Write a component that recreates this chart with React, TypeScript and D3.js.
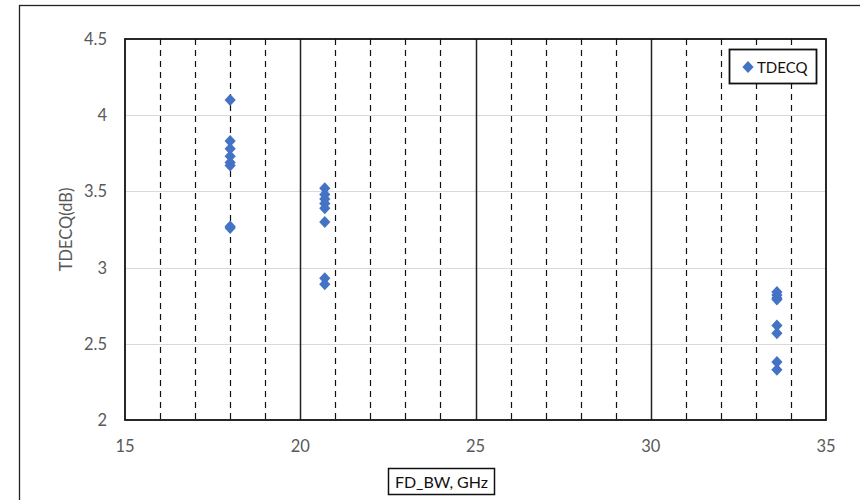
import React, { useRef, useEffect } from "react";
import * as d3 from "d3";

// FD_BW (GHz) per measurement
const bwValues = [
  18, 18, 18, 18, 18, 18, 18, 18,
  20.7, 20.7, 20.7, 20.7, 20.7, 20.7, 20.7, 20.7,
  33.6, 33.6, 33.6, 33.6, 33.6, 33.6, 33.6, 33.6,
];
// TDECQ (dB) per measurement
const tdecqValues = [
  4.1, 3.83, 3.78, 3.73, 3.69, 3.67, 3.27, 3.26,
  3.52, 3.48, 3.45, 3.42, 3.39, 3.3, 2.93, 2.89,
  2.84, 2.82, 2.8, 2.79, 2.62, 2.57, 2.38, 2.33,
];
const xTicks = [15, 20, 25, 30, 35];
const xMinor = [16, 17, 18, 19, 21, 22, 23, 24, 26, 27, 28, 29, 31, 32, 33, 34];
const yTicks = [2, 2.5, 3, 3.5, 4, 4.5];
const seriesName = "TDECQ";

export default function App() {
  const svgRef = useRef<SVGSVGElement>(null);
  const width = 860;
  const height = 500;
  const marginLeft = 125;
  const marginRight = 34;
  const marginTop = 39;
  const marginBottom = 80;

  useEffect(() => {
    const svg = d3.select(svgRef.current);
    svg.selectAll("*").remove();
    const font = "Lato, 'Open Sans', sans-serif";

    const x = d3.scaleLinear().domain([15, 35]).range([marginLeft, width - marginRight]);
    const y = d3.scaleLinear().domain([2, 4.5]).range([height - marginBottom, marginTop]);

    // diamond marker, a bit wider than d3's symbolDiamond
    const diamond = "M0,-6L5.6,0L0,6L-5.6,0Z";

    svg.append("rect").attr("width", width).attr("height", height).attr("fill", "#fff");

    // outer chart frame
    svg.append("rect")
      .attr("x", 19.5).attr("y", 5.5)
      .attr("width", width + 10).attr("height", height + 10)
      .attr("fill", "none").attr("stroke", "#222").attr("stroke-width", 1.3);

    // horizontal gridlines
    svg.append("g")
      .selectAll("line")
      .data(yTicks.slice(1, -1))
      .join("line")
      .attr("x1", marginLeft).attr("x2", width - marginRight)
      .attr("y1", d => Math.round(y(d)) + 0.5).attr("y2", d => Math.round(y(d)) + 0.5)
      .attr("stroke", "#d9d9d9").attr("stroke-width", 1);

    // dashed minor verticals
    svg.append("g")
      .selectAll("line")
      .data(xMinor)
      .join("line")
      .attr("x1", d => Math.round(x(d)) + 0.5).attr("x2", d => Math.round(x(d)) + 0.5)
      .attr("y1", marginTop).attr("y2", height - marginBottom)
      .attr("stroke", "#111").attr("stroke-width", 1.2)
      .attr("stroke-dasharray", "6,5");

    // solid major verticals
    svg.append("g")
      .selectAll("line")
      .data(xTicks.slice(1, -1))
      .join("line")
      .attr("x1", d => Math.round(x(d)) + 0.5).attr("x2", d => Math.round(x(d)) + 0.5)
      .attr("y1", marginTop).attr("y2", height - marginBottom)
      .attr("stroke", "#222").attr("stroke-width", 1.5);

    // plot area border
    svg.append("rect")
      .attr("x", marginLeft).attr("y", marginTop)
      .attr("width", width - marginLeft - marginRight)
      .attr("height", height - marginTop - marginBottom)
      .attr("fill", "none").attr("stroke", "#111").attr("stroke-width", 1.8);

    // tick labels
    svg.append("g")
      .selectAll("text")
      .data(xTicks)
      .join("text")
      .attr("x", d => x(d)).attr("y", height - marginBottom + 32)
      .attr("text-anchor", "middle")
      .attr("font-family", font).attr("font-size", 16.5).attr("fill", "#595959")
      .text(d => d);

    svg.append("g")
      .selectAll("text")
      .data(yTicks)
      .join("text")
      .attr("x", marginLeft - 18).attr("y", d => y(d) + 6)
      .attr("text-anchor", "end")
      .attr("font-family", font).attr("font-size", 16.5).attr("fill", "#595959")
      .text(d => d);

    // axis titles
    svg.append("text")
      .attr("transform", `translate(72,${(marginTop + height - marginBottom) / 2}) rotate(-90)`)
      .attr("text-anchor", "middle")
      .attr("font-family", font).attr("font-size", 16.5).attr("fill", "#595959")
      .text("TDECQ(dB)");

    const xt = svg.append("g");
    xt.append("rect")
      .attr("x", 388.5).attr("y", 468.5).attr("width", 106).attr("height", 26)
      .attr("fill", "#fff").attr("stroke", "#111").attr("stroke-width", 1.5);
    xt.append("text")
      .attr("x", 441.5).attr("y", 488)
      .attr("text-anchor", "middle")
      .attr("font-family", font).attr("font-size", 16).attr("fill", "#111")
      .text("FD_BW, GHz");

    // points
    svg.append("g")
      .selectAll("path")
      .data(bwValues.map((b, i) => ({ b, v: tdecqValues[i] })))
      .join("path")
      .attr("transform", d => `translate(${x(d.b)},${y(d.v)})`)
      .attr("d", diamond)
      .attr("fill", "#4472c4");

    // legend
    const lg = svg.append("g");
    lg.append("rect")
      .attr("x", 729.5).attr("y", 49.5).attr("width", 87).attr("height", 34)
      .attr("fill", "#fff").attr("stroke", "#111").attr("stroke-width", 1.8);
    lg.append("path")
      .attr("transform", "translate(748,67)")
      .attr("d", diamond)
      .attr("fill", "#4472c4");
    lg.append("text")
      .attr("x", 757).attr("y", 73)
      .attr("font-family", font).attr("font-size", 15).attr("fill", "#111")
      .text(seriesName);
  }, []);

  return (
    <div style={{ position: "absolute", left: 0, top: 0 }}>
      <svg ref={svgRef} width={width} height={height} style={{ display: "block" }} />
    </div>
  );
}
